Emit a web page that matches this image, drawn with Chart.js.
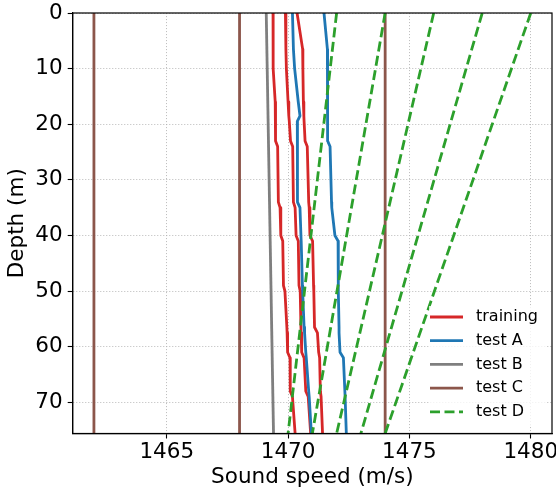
<!DOCTYPE html>
<html>
<head>
<meta charset="utf-8">
<script src="https://cdn.jsdelivr.net/npm/chart.js@4.4.0/dist/chart.umd.min.js"></script>
<style>
  html, body { margin: 0; padding: 0; background: #fff; }
</style>
</head>
<body>
<canvas id="profileChart" width="556" height="493"></canvas>
<script>
// depth samples (m) shared by the measured profiles
const depthGrid = [0, 6.5, 10, 16, 18.5, 19.5, 23, 24, 34, 35, 40, 41, 49, 50, 56.5, 57.5, 61, 62, 68, 69, 75.6];

// training profiles (m/s)
const training1 = [1469.38, 1469.38, 1469.39, 1469.47, 1469.48, 1469.48, 1469.49, 1469.57, 1469.60, 1469.67, 1469.70, 1469.78, 1469.81, 1469.87, 1469.95, 1469.96, 1469.98, 1470.08, 1470.09, 1470.18, 1470.29];
const training2 = [1469.89, 1469.91, 1469.93, 1470.00, 1470.03, 1470.05, 1470.10, 1470.19, 1470.22, 1470.29, 1470.33, 1470.42, 1470.45, 1470.50, 1470.53, 1470.54, 1470.56, 1470.66, 1470.73, 1470.83, 1470.93];
const training3 = [1470.37, 1470.60, 1470.61, 1470.63, 1470.65, 1470.66, 1470.70, 1470.79, 1470.85, 1470.87, 1470.90, 1471.01, 1471.05, 1471.06, 1471.09, 1471.21, 1471.26, 1471.30, 1471.33, 1471.36, 1471.42];

// test A profiles
const testA1 = [1470.18, 1470.22, 1470.27, 1470.42, 1470.49, 1470.38, 1470.38, 1470.38, 1470.40, 1470.49, 1470.53, 1470.54, 1470.59, 1470.60, 1470.66, 1470.68, 1470.73, 1470.75, 1470.85, 1470.87, 1470.96];
const testA2 = [1471.48, 1471.62, 1471.62, 1471.63, 1471.63, 1471.63, 1471.63, 1471.73, 1471.79, 1471.80, 1471.93, 1472.06, 1472.07, 1472.07, 1472.10, 1472.10, 1472.14, 1472.28, 1472.34, 1472.35, 1472.40];

// top / bottom only profiles
const endDepths = [0, 75.6];
const testB = [1469.1, 1469.4];
const testC = [1462, 1468, 1474];
const testDTop = [1472, 1474, 1476, 1478, 1480];
const testDBottom = [1470, 1471, 1472, 1473, 1474];

const xTicks = [1465, 1470, 1475, 1480];
const yTicks = [0, 10, 20, 30, 40, 50, 60, 70];

const colors = {
  'training': '#d62728',
  'test A': '#1f77b4',
  'test B': '#7f7f7f',
  'test C': '#8c564b',
  'test D': '#2ca02c'
};

Chart.defaults.font.family = "'DejaVu Sans', sans-serif";
Chart.defaults.color = '#000';

function profile(label, depths, speeds, dashed) {
  return {
    label: label,
    data: depths.map((d, i) => ({x: speeds[i], y: d})),
    borderColor: colors[label],
    backgroundColor: colors[label],
    borderWidth: 2.8,
    borderDash: dashed ? [10, 4.5] : [],
    borderJoinStyle: 'round',
    showLine: true,
    pointRadius: 0,
    fill: false,
    tension: 0
  };
}

let datasets = [];
for (const t of [training1, training2, training3]) datasets.push(profile('training', depthGrid, t));
for (const t of [testA1, testA2]) datasets.push(profile('test A', depthGrid, t));
datasets.push(profile('test B', endDepths, testB));
for (const c of testC) datasets.push(profile('test C', endDepths, [c, c]));
for (let i = 0; i < testDTop.length; i++) {
  datasets.push(profile('test D', endDepths, [testDTop[i], testDBottom[i]], true));
}
// later datasets on top, like matplotlib
datasets.forEach((ds, i) => { ds.order = datasets.length - i; });

const frame = {
  id: 'frame',
  afterDatasetsDraw(chart) {
    const a = chart.chartArea, ctx = chart.ctx;
    ctx.save();
    ctx.strokeStyle = '#000';
    ctx.lineWidth = 1.2;
    ctx.strokeRect(a.left, a.top, a.right - a.left, a.bottom - a.top);
    ctx.restore();
  }
};

const boxLegend = {
  id: 'boxLegend',
  afterDraw(chart) {
    const ctx = chart.ctx;
    const seen = [];
    for (const ds of chart.data.datasets) {
      if (!seen.find(s => s.label === ds.label)) seen.push(ds);
    }
    const x0 = 430, y0 = 317, row = 23.7;
    ctx.save();
    ctx.fillStyle = 'rgba(255,255,255,0.8)';
    ctx.fillRect(429, 306, 117, 119);
    ctx.font = "16px 'DejaVu Sans', sans-serif";
    ctx.textBaseline = 'middle';
    seen.forEach((ds, i) => {
      const y = y0 + i * row;
      ctx.strokeStyle = ds.borderColor;
      ctx.lineWidth = 2.8;
      ctx.setLineDash(ds.borderDash);
      ctx.beginPath();
      ctx.moveTo(x0, y);
      ctx.lineTo(x0 + 33, y);
      ctx.stroke();
      ctx.setLineDash([]);
      ctx.fillStyle = '#000';
      ctx.fillText(ds.label, x0 + 46, y);
    });
    ctx.restore();
  }
};

function noPad(scale) {
  scale.paddingLeft = 0;
  scale.paddingRight = 0;
  scale.paddingTop = 0;
  scale.paddingBottom = 0;
}

new Chart('profileChart', {
  type: 'scatter',
  data: { datasets: datasets },
  options: {
    responsive: false,
    animation: false,
    layout: { padding: { top: 13, right: 4, left: 0, bottom: 0 } },
    plugins: {
      legend: { display: false },
      tooltip: { enabled: false }
    },
    scales: {
      x: {
        type: 'linear',
        position: 'bottom',
        min: 1461.125,
        max: 1480.875,
        afterBuildTicks: (s) => { s.ticks = xTicks.map(v => ({value: v})); },
        afterFit: (s) => { s.height = 59.5; noPad(s); },
        ticks: { font: { size: 21.5 }, padding: 1.5, maxRotation: 0, callback: (v) => String(v) },
        grid: { color: '#b0b0b0', lineWidth: 0.8, tickColor: '#000', tickLength: 5, tickWidth: 1.1, tickBorderDash: [] },
        border: { color: '#000', width: 1.2, dash: [1.1, 1.9] },
        title: { display: true, text: 'Sound speed (m/s)', font: { size: 21.5 }, padding: { top: 0, bottom: 3 } }
      },
      y: {
        type: 'linear',
        position: 'left',
        reverse: true,
        min: 0,
        max: 75.6,
        afterBuildTicks: (s) => { s.ticks = yTicks.map(v => ({value: v})); },
        afterFit: (s) => { s.width = 72.7; noPad(s); },
        ticks: { font: { size: 21.5 }, padding: 5, callback: (v) => String(v) },
        grid: { color: '#b0b0b0', lineWidth: 0.8, tickColor: '#000', tickLength: 5, tickWidth: 1.1, tickBorderDash: [] },
        border: { color: '#000', width: 1.2, dash: [1.1, 1.9] },
        title: { display: true, text: 'Depth (m)', font: { size: 21.5 }, padding: { top: 5, bottom: 0 } }
      }
    }
  },
  plugins: [frame, boxLegend]
});
</script>
</body>
</html>
